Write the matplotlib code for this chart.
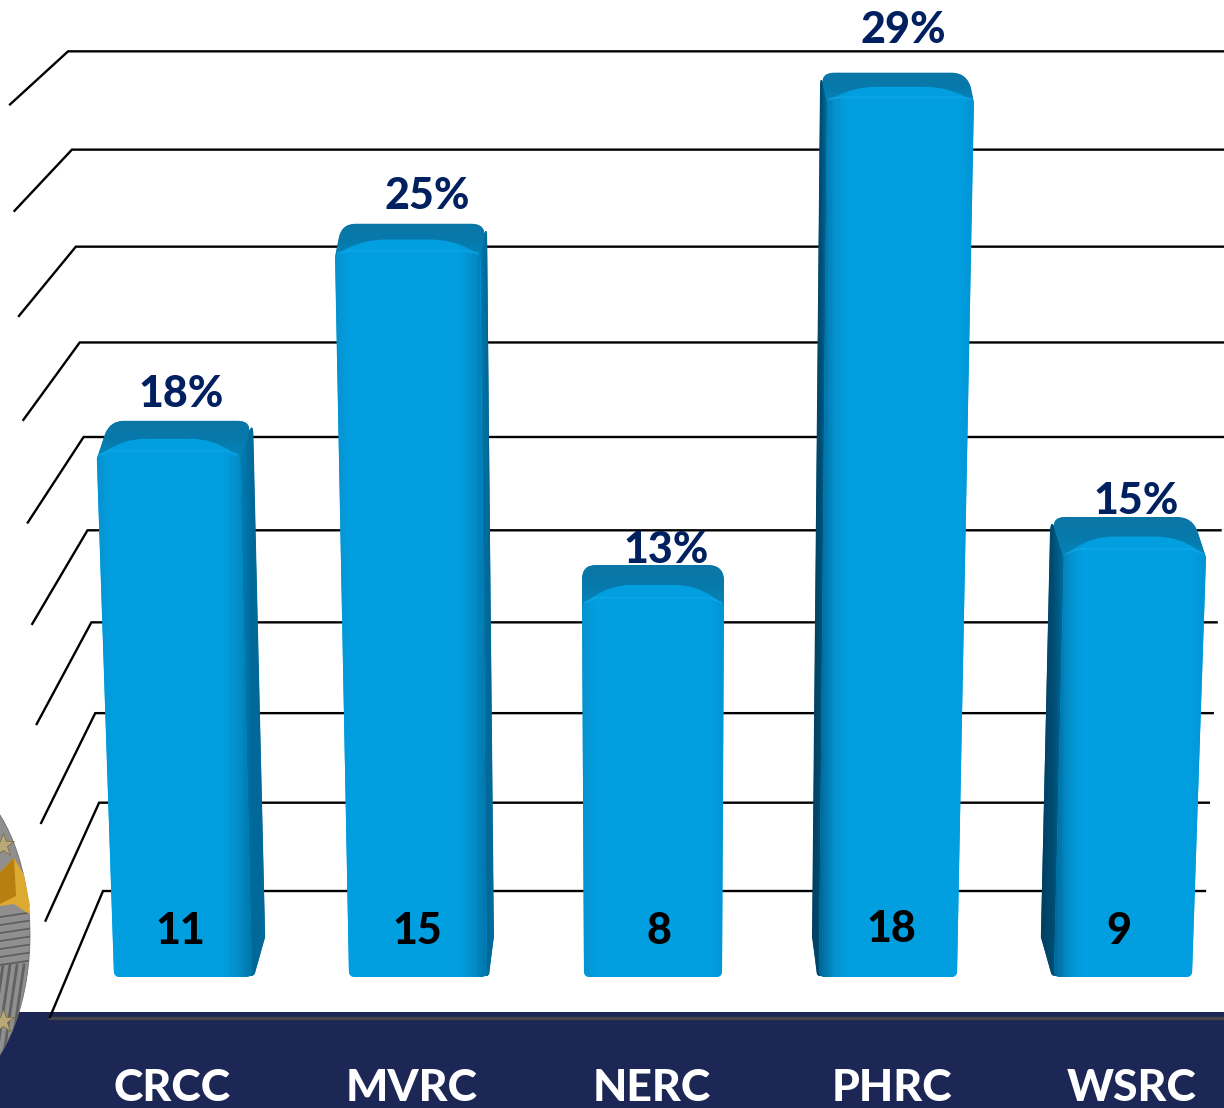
import numpy as np
import matplotlib
matplotlib.use('Agg')
import matplotlib.pyplot as plt
from matplotlib.colors import LinearSegmentedColormap
from matplotlib.patches import PathPatch, Polygon, Rectangle
from matplotlib.path import Path

categories = ['CRCC', 'MVRC', 'NERC', 'PHRC', 'WSRC']
counts = [11, 15, 8, 18, 9]
percents = ['18%', '25%', '13%', '29%', '15%']
grid_values = [0, 2, 4, 6, 8, 10, 12, 14, 16, 18]

W, H = 1224, 1108
plt.rcParams['font.family'] = ['Lato', 'DejaVu Sans']


# perspective of the value axis, 1 unit of the scale is 1 pixel
def forward(v):
    v = np.asarray(v, dtype=float)
    return 43.84 * v + 0.156 * v ** 2


def inverse(f):
    f = np.asarray(f, dtype=float)
    return (-43.84 + np.sqrt(np.maximum(43.84 ** 2 + 0.624 * f, 0))) / 0.312


def wall_px(v):
    return 891 - forward(v)


def val(px):
    return inverse(891 - np.asarray(px, dtype=float))


fig = plt.figure(figsize=(W / 100, H / 100), dpi=100)
ax = fig.add_axes([0, 0, 1, 1])
ax.set_yscale('function', functions=(forward, inverse))
ax.set_xlim(0, W)
ax.set_ylim(val(H), val(0))
ax.axis('off')


def round_path(pts, radii):
    # polygon in pixels with rounded corners, returned in data coordinates
    verts, codes = [], []
    n = len(pts)
    for i in range(n):
        p = np.array(pts[i], dtype=float)
        a = np.array(pts[i - 1], dtype=float)
        b = np.array(pts[(i + 1) % n], dtype=float)
        r = radii[i]
        if r == 0:
            verts.append(p)
            codes.append(Path.MOVETO if i == 0 else Path.LINETO)
            continue
        p1 = p + (a - p) / np.linalg.norm(a - p) * r
        p2 = p + (b - p) / np.linalg.norm(b - p) * r
        verts += [p1, p, p2]
        codes += [Path.MOVETO if i == 0 else Path.LINETO, Path.CURVE3, Path.CURVE3]
    verts.append(verts[0])
    codes.append(Path.CLOSEPOLY)
    verts = np.array(verts)
    verts[:, 1] = val(verts[:, 1])
    return Path(verts, codes)


def gradient(pts, radii, colors, along_x, z):
    path = round_path(pts, radii)
    patch = PathPatch(path, fc=colors[len(colors) // 2], ec='none', zorder=z)
    ax.add_patch(patch)
    pts = np.array(pts, dtype=float)
    xs = np.linspace(pts[:, 0].min(), pts[:, 0].max(), 61)
    ys = val(np.linspace(pts[:, 1].min(), pts[:, 1].max(), 61))
    cmap = LinearSegmentedColormap.from_list('g', colors)
    t = np.linspace(0, 1, 60)
    c = np.tile(t, (60, 1)) if along_x else np.tile(t[:, None], (1, 60))
    mesh = ax.pcolormesh(xs, ys, c, cmap=cmap, shading='flat', zorder=z, linewidth=0)
    mesh.set_clip_path(patch)


# back wall grid and left edge
for v in grid_values:
    back_x = 103 - 1.94 * v
    front_x = 50 - 2.22 * v
    drop = 126 - 4.05 * v
    ax.plot([front_x, back_x, 1205 + 1.94 * v], [val(wall_px(v) + drop), v, v],
            color='black', lw=1.7, solid_joinstyle='miter', zorder=3)

# bottom band
ax.add_patch(Rectangle((0, val(H)), W, val(1012) - val(H), fc='#1c2755', ec='none', zorder=2))
ax.plot([50, W], [val(1018), val(1018)], color='#454545', lw=2.4, zorder=2.5)

# emblem at the left edge, only its right part is on the page
emblem_z = 4
th = np.linspace(0, 2 * np.pi, 80)
ell = np.column_stack([-60 + 90 * np.cos(th), val(935 + 161 * np.sin(th))])
emblem = Polygon(ell, closed=True, fc='#8f8f8f', ec='#6f6f6f', lw=0.6, zorder=emblem_z)
ax.add_patch(emblem)
for py in np.arange(912, 962, 8):
    ln, = ax.plot([0, 34], [val(py + 5), val(py)], color='#5f5f5f', lw=1.3, zorder=emblem_z + 0.1)
    ln.set_clip_path(emblem)
for x0 in np.arange(-4, 32, 7):
    ln, = ax.plot([x0, x0 - 14], [val(965), val(1060)], color='#616161', lw=2, zorder=emblem_z + 0.1)
    ln.set_clip_path(emblem)
gold = Polygon(np.column_stack([[0, 14, 24, 30, 29, 14, 0],
                                val([872, 858, 875, 905, 914, 904, 906])]),
               closed=True, fc='#dcaa30', ec='none', zorder=emblem_z + 0.2)
ax.add_patch(gold)
dark_gold = Polygon(np.column_stack([[0, 14, 16, 0], val([872, 858, 896, 904])]),
                    closed=True, fc='#b87f10', ec='none', zorder=emblem_z + 0.3)
ax.add_patch(dark_gold)
for sx, sy in [(3, 845), (3, 1021)]:
    ax.plot([sx], [val(sy)], marker='*', ms=17, mfc='#b9a878', mec='#7d6d45', mew=0.6,
            zorder=emblem_z + 0.4)

# bars
base_px = 977
pct_dx = [2, 15, 15, 12, 16]
pct_dy = [30, 31, 18, 46, 19]
count_dx = [-3, -1, 6, 3, -4]
count_y = [928, 928, 928, 926, 928]
plain = '#019ee0'
for i, (name, v, pct) in enumerate(zip(categories, counts, percents)):
    cx = 183 + 235 * i
    off = cx - 653
    back_top = wall_px(v) + 46 - 1.37 * v
    depth = 48 - 1.1 * v
    front_top = back_top + depth
    h = base_px - front_top
    lean = off * 6e-5 * h
    shift = -off * 0.028
    w_base = 138
    w_top = 138 + 0.010 * h
    fl, fr = cx + lean - w_top / 2, cx + lean + w_top / 2
    bl, br = cx - w_base / 2, cx + w_base / 2
    z = 5 + i * 0.1
    front_cols = ['#0792cf'] + [plain] * 10 + ['#0095d5']

    if shift > 0.5:
        side = [(fr - 2, front_top), (fr + shift, back_top), (br + shift, base_px - 40),
                (br + 2, base_px - 1), (br - 4, base_px - 1)]
        gradient(side, [0, 14, 0, 3, 0], ['#0083bb', '#00699a', '#00699a'], True, z)
        front_cols = ['#0792cf'] + [plain] * 9 + ['#0390cc', '#0078ad']
    elif shift < -0.5:
        side = [(fl + 2, front_top), (fl + shift, back_top), (bl + shift, base_px - 40),
                (bl - 2, base_px - 1), (bl + 6, base_px - 1)]
        gradient(side, [0, 14, 0, 3, 0], ['#003f60', '#004c72', '#0071a4'], True, z)
        front_cols = ['#00699b', '#0390cc'] + [plain] * 9 + ['#0095d5']

    top = [(fl, front_top + 2), (fl + shift, back_top), (fr + shift, back_top), (fr, front_top + 2)]
    gradient(top, [0, 14, 16, 0], ['#0a76a6', '#0679aa', '#0585ba'], False, z + 0.01)

    arch = depth * 0.5
    t = np.array([(fl, front_top), (fl + 28, front_top - arch), (fr - 28, front_top - arch), (fr, front_top)])
    front = [(bl, base_px), t[0], t[1], t[2], t[3], (br, base_px)]
    gradient(front, [6, 3, 22, 22, 3, 6], front_cols, True, z + 0.02)
    ax.plot([fl + 3, fl + 14, fr - 14, fr - 3],
            val([front_top - 2, front_top - arch * 0.55 + 4, front_top - arch * 0.55 + 4, front_top - 2]),
            color='#12a9ea', lw=1.6, alpha=0.6, zorder=z + 0.03)

    ax.text(cx + count_dx[i], val(count_y[i] + 3), str(v), color='black',
            fontsize=31, fontweight='black', ha='center', va='center', zorder=7)
    ax.text(cx + shift + lean + pct_dx[i] - 2, val(back_top - pct_dy[i] + 3), pct,
            color='#002060', fontsize=31, fontweight='black', ha='center', va='center', zorder=7)
    ax.text(172 + 240 * i, val(1101), name, color='white', fontsize=32, fontweight='black',
            ha='center', va='baseline', zorder=7)

fig.savefig('out.png', dpi=100)
